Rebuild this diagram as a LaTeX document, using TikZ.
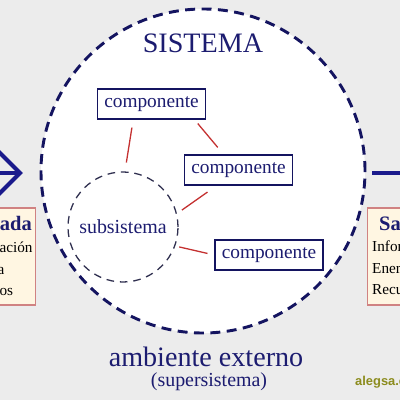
\documentclass[tikz,border=0pt]{standalone}
\usepackage{fontspec}
\setmainfont{Liberation Serif}
\newfontfamily\webfont{Liberation Sans}
\usepackage{xcolor}
\definecolor{NavyText}{RGB}{28,28,112}
\definecolor{NavyLine}{RGB}{20,20,96}
\definecolor{ArrowBlue}{RGB}{26,26,140}
\definecolor{LinkRed}{RGB}{196,48,48}
\definecolor{BackGray}{RGB}{236,236,236}
\definecolor{FillCream}{RGB}{255,246,226}
\definecolor{BorderPink}{RGB}{208,130,130}
\definecolor{RingGray}{RGB}{48,48,80}
\definecolor{WebOlive}{RGB}{140,140,30}
\usetikzlibrary{arrows.meta, positioning}
\tikzset{
  % Dashed rings
  sysring/.style={
    circle, draw=NavyLine, line width=2.5pt,
    dash pattern=on 8.5pt off 5.5pt,
    fill=white, minimum size=9.72cm, inner sep=0pt
  },
  subring/.style={
    circle, draw=RingGray, line width=1.1pt,
    dash pattern=on 6.5pt off 5pt,
    minimum size=3.3cm, inner sep=0pt,
    font=\fontsize{17}{19}\selectfont, text=NavyText
  },
  % Component box
  compbox/.style={
    rectangle, draw=NavyLine, line width=1.2pt, fill=white,
    minimum width=3.24cm, minimum height=0.9cm, inner sep=2pt,
    font=\fontsize{16.5}{18}\selectfont, text=NavyText
  },
  % Input / output boxes
  iobox/.style={
    rectangle, draw=BorderPink, line width=1.2pt, fill=FillCream,
    minimum width=3.3cm, minimum height=2.91cm
  },
  iotitle/.style={font=\fontsize{17.5}{19}\selectfont\bfseries, text=NavyText, inner sep=0pt},
  iobody/.style={font=\fontsize{13}{18.3}\selectfont, align=left, inner sep=0pt},
  % Connectors
  link/.style={draw=LinkRed, line width=1.1pt},
  flow/.style={ArrowBlue, line width=3.4pt, -{Straight Barb[length=0.85cm, width=1.7cm]}},
  % Labels
  bigtext/.style={font=\fontsize{24}{28}\selectfont, text=NavyText, inner sep=0pt},
  subtext/.style={font=\fontsize{17}{19}\selectfont, text=NavyText, inner sep=0pt},
}
\begin{document}
\begin{tikzpicture}[x=0.03cm, y=-0.03cm]
  \useasboundingbox (0,0) rectangle (400,400);
  \fill[BackGray] (0,0) rectangle (400,400);
  \clip (0,0) rectangle (400,400);

  % Input and output boxes
  \node[iobox, anchor=east] (inBox) at (36,256.5) {};
  \node[iobox, anchor=west] (outBox) at (367,256.5) {};
  \node[iotitle, anchor=east] (inTitle) at (32,223) {Entrada};
  \node[iobody, anchor=west] (inList) at (-43,269) {Información\\Energía\\Recursos};
  \node[iotitle, anchor=west] (outTitle) at (379,223) {Salida};
  \node[iobody, anchor=west] (outList) at (372,268) {Información\\Energía\\Recursos};

  % The system
  \node[sysring] (sistema) at (203,171) {};
  \node[bigtext] (sysTitle) at (203,43) {SISTEMA};
  \node[subring] (sub) at (123,227) {subsistema};
  \node[compbox] (compA) at (151.5,104) {componente};
  \node[compbox] (compB) at (238.5,170) {componente};
  \node[compbox] (compC) at (269,255) {componente};

  % Relations
  \draw[link, shorten <=0.24cm, shorten >=0.27cm] ([xshift=-0.55cm]compA.south) -- (sub.88);
  \draw[link, shorten <=0.15cm, shorten >=0.27cm] ([xshift=-0.35cm]compA.south east) -- ([xshift=-0.45cm]compB.north);
  \draw[link, shorten <=0.33cm, shorten >=0.18cm] ([xshift=-0.66cm]compB.south) -- (sub.14);
  \draw[link, shorten <=0.12cm, shorten >=0.21cm] (sub.-20) -- (compC.west);

  % Flows in and out
  \coordinate (inStart) at (-20,173);
  \coordinate (outEnd) at (450,173);
  \draw[flow, shorten >=0.5cm] (inStart) -- (sistema.west |- inStart);
  \draw[flow, shorten <=0.18cm] (sistema.east |- outEnd) -- (outEnd);

  % Environment
  \node[bigtext] (envLabel) at (206,357) {ambiente externo};
  \node[subtext] (envSub) at (209,382) {(supersistema)};
  \node[font=\webfont\fontsize{11}{13}\selectfont\bfseries, text=WebOlive, anchor=west, inner sep=0pt] (web) at (355,382) {alegsa.com.ar};
\end{tikzpicture}
\end{document}
